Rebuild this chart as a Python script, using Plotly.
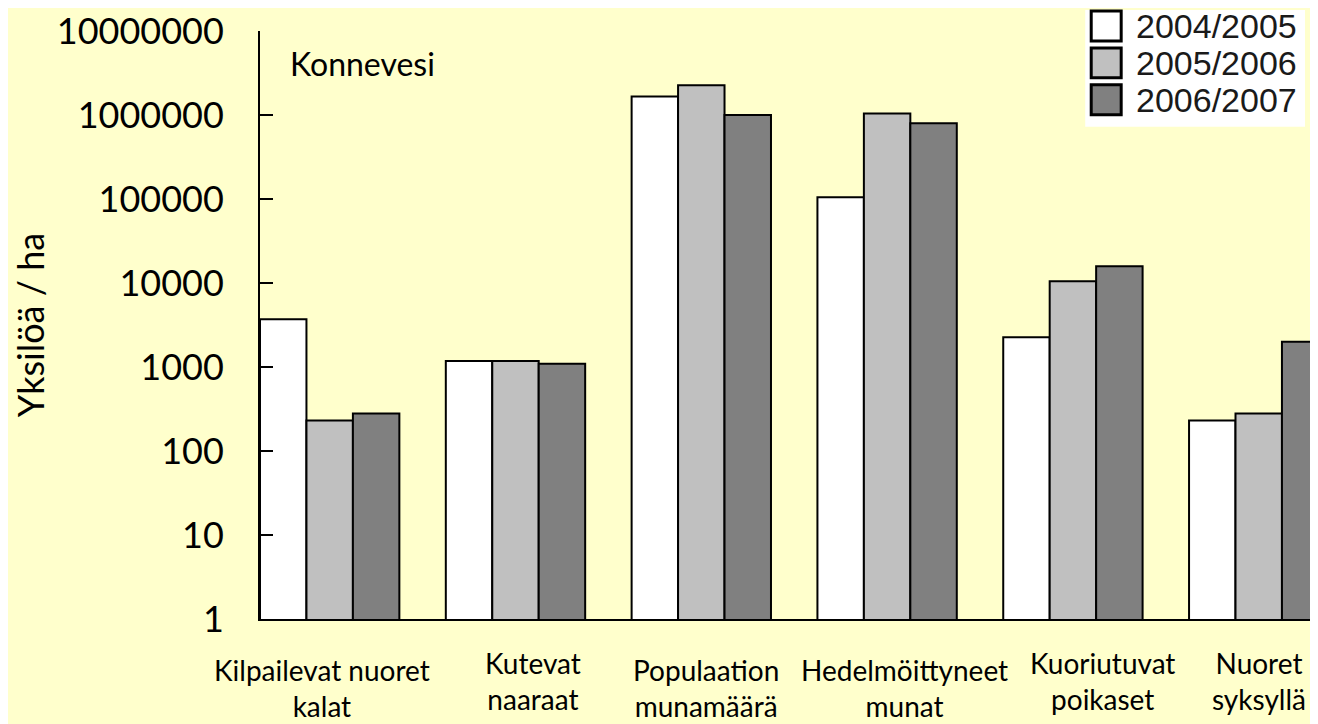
import plotly.graph_objects as go

# data (individuals per hectare, log scale)
categories = ["Kilpailevat nuoret kalat", "Kutevat naaraat", "Populaation munamäärä",
              "Hedelmöittyneet munat", "Kuoriutuvat poikaset", "Nuoret syksyllä"]
tick_labels = ["Kilpailevat nuoret<br>kalat", "Kutevat<br>naaraat", "Populaation<br>munamäärä",
               "Hedelmöittyneet<br>munat", "Kuoriutuvat<br>poikaset", "Nuoret<br>syksyllä"]
seasons = ["2004/2005", "2005/2006", "2006/2007"]
v_2004 = [3700, 1180, 1660000, 105000, 2260, 230]
v_2005 = [230, 1180, 2260000, 1040000, 10500, 280]
v_2006 = [280, 1090, 1000000, 800000, 15800, 2000]
y_ticks = [1, 10, 100, 1000, 10000, 100000, 1000000, 10000000]

colors = ["#FFFFFF", "#C0C0C0", "#808080"]
bg = "#FFFFCC"

# page has an 8px body margin, so the figure is a bit smaller than the window
OFF = 8
W, H = 1318 - OFF, 724 - OFF
L, R, T, B = 259 - OFF, 0, 29 - OFF, 105


def px_x(px):
    # page pixel -> paper x
    return (px - OFF - L) / (W - L - R)


def px_y(py):
    # page pixel -> paper y
    return (H - B - (py - OFF)) / (H - T - B)


fig = go.Figure()
for name, vals, col in zip(seasons, [v_2004, v_2005, v_2006], colors):
    fig.add_trace(go.Bar(x=categories, y=vals, name=name,
                         marker=dict(color=col, line=dict(color="black", width=2)),
                         showlegend=False))

# legend drawn by hand so the swatches are as big as in the original
rows = [24, 61, 98]
shapes = [dict(type="rect", xref="paper", yref="paper",
               x0=px_x(1085), x1=px_x(1305), y0=px_y(125), y1=px_y(8),
               fillcolor="white", line=dict(width=0), layer="below")]
annos = []
for name, col, ry in zip(seasons, colors, rows):
    shapes.append(dict(type="rect", xref="paper", yref="paper",
                       x0=px_x(1091), x1=px_x(1121), y0=px_y(ry + 15), y1=px_y(ry - 15),
                       fillcolor=col, line=dict(color="black", width=3)))
    annos.append(dict(text=name, xref="paper", yref="paper", x=px_x(1134), y=px_y(ry),
                      xanchor="left", yanchor="middle", showarrow=False,
                      font=dict(family="Liberation Sans", size=34, color="#1a1a1a")))

annos.append(dict(text="Konnevesi", xref="paper", yref="paper", x=px_x(287), y=px_y(62),
                  xanchor="left", yanchor="middle", showarrow=False,
                  font=dict(family="Lato", size=32, color="black")))

# category labels sit in hand-placed text boxes in the original, not exactly centred
label_dx = [-8, 18, 5, 17, 30, 0]
label_dy = [0, -7, 0, 0, -7, -7]
for cat, lab, dx, dy in zip(categories, tick_labels, label_dx, label_dy):
    annos.append(dict(text=lab, xref="x", yref="paper", x=cat, y=0,
                      xanchor="center", yanchor="top", align="center",
                      xshift=dx, yshift=-33 - dy, showarrow=False, borderpad=0,
                      font=dict(family="Lato", size=28, color="black")))

fig.update_layout(
    width=W, height=H,
    margin=dict(l=L, r=R, t=T, b=B),
    paper_bgcolor=bg, plot_bgcolor=bg,
    barmode="group", bargap=0.25, bargroupgap=0,
    shapes=shapes, annotations=annos,
    font=dict(family="Lato", color="black"),
)
fig.update_xaxes(
    range=[-0.375, 5.319], showticklabels=False,
    showline=True, linecolor="black", linewidth=2,
    ticks="", showgrid=False, zeroline=False,
)
fig.update_yaxes(
    type="log", range=[0, 7],
    tickvals=y_ticks, ticktext=[str(v) for v in y_ticks],
    showline=True, linecolor="black", linewidth=2,
    ticks="inside", ticklen=13, tickwidth=2, tickcolor="black",
    showgrid=False, zeroline=False,
    tickfont=dict(family="Lato", size=36, color="black"),
    ticklabelstandoff=27, ticklabeloverflow="allow",
    title=dict(text="Yksilöä / ha", font=dict(family="Lato", size=36, color="black"),
               standoff=24),
)

fig.write_html("out.html")
